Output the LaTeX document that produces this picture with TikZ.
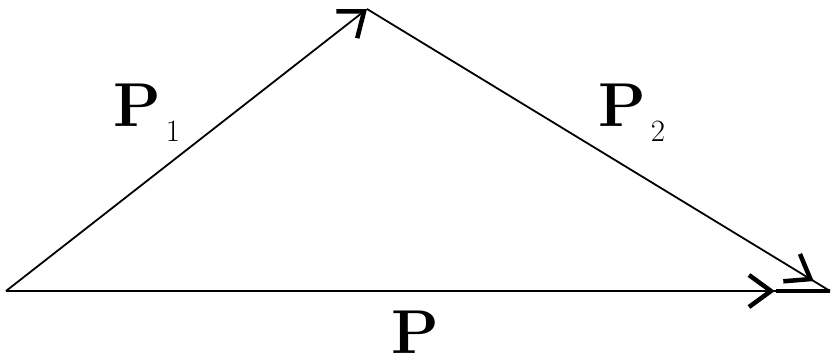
\documentclass[tikz,border=0pt]{standalone}
\usetikzlibrary{arrows.meta,decorations.markings}
\tikzset{
  x=1pt,y=-1pt,
  vec/.style={line width=1.8pt, black},
  barb/.style={-{Straight Barb[length=22pt,width=34pt,line width=4.5pt]}},
  midbarb/.style={postaction={decorate},decoration={markings,
     mark=at position #1 with {\arrow{Straight Barb[length=22pt,width=32pt,line width=4.5pt]}}}},
  lab/.style={inner sep=0pt, anchor=base west},
}
\newcommand{\bigP}{{\fontsize{62}{64}\selectfont\bfseries P}}
\newcommand{\vlabel}[1]{\bigP\hspace{5pt}\raisebox{-15pt}{\fontsize{31}{32}\selectfont #1}}
\begin{document}
\begin{tikzpicture}
\useasboundingbox (0,0) rectangle (834,363);
\coordinate (O) at (6,291);
\coordinate (T) at (367,9);
\coordinate (R) at (830,291);
\draw[vec,barb] (O) -- (T);
\draw[vec,midbarb=0.965] (T) -- (R);
\draw[vec,midbarb=0.933] (O) -- (R);
\draw[line width=4.5pt] (776,291) -- (R);
\node[lab] (p1) at (113,127) {\vlabel{1}};
\node[lab] (p2) at (598,127) {\vlabel{2}};
\node[lab] (p) at (391,353) {\bigP};
\end{tikzpicture}
\end{document}
